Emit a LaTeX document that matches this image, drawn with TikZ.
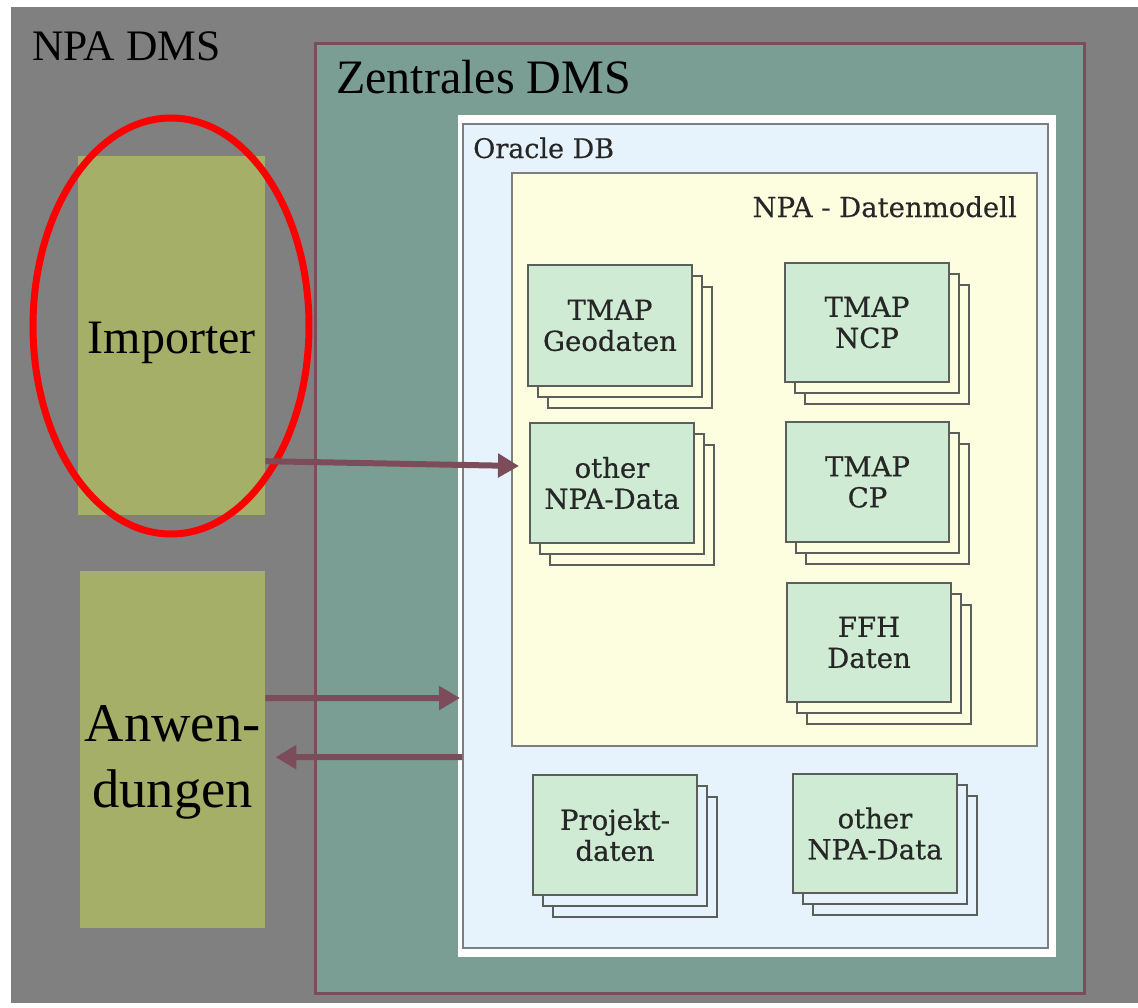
\documentclass[tikz,border=0pt]{standalone}
\usepackage{fontspec}
\setmainfont{Liberation Serif}
\newfontfamily\boxfont[FakeBold=0.6]{DejaVu Serif}
\newfontfamily\labelfont[FakeBold=0.3]{DejaVu Serif}
\usetikzlibrary{arrows.meta,calc}
\definecolor{bggray}{HTML}{808080}
\definecolor{tealbg}{HTML}{7B9E94}
\definecolor{maroon}{HTML}{7D4C5A}
\definecolor{olive}{HTML}{A6AF68}
\definecolor{oraclebg}{HTML}{E6F3FC}
\definecolor{modelbg}{HTML}{FDFDE0}
\definecolor{boxgreen}{HTML}{CFEBD4}
\definecolor{boxline}{HTML}{5A5F5C}
\definecolor{boxtext}{HTML}{262626}
\newcommand\stackbox[7]{% name, x, y, w, h, text, background
  \draw[backline, fill=#7] (#2+20,#3+22) rectangle ++(#4,#5);
  \draw[backline, fill=#7] (#2+10,#3+11) rectangle ++(#4,#5);
  \node[frontbox, minimum width=#4pt, minimum height=#5pt] (#1) at (#2+#4/2,#3+#5/2) {#6};
}
\begin{document}
\begin{tikzpicture}[x=1pt,y=-1pt,
  backline/.style={draw=boxline, line width=1.5pt},
  frontbox/.style={draw=boxline, line width=2pt, fill=boxgreen, inner sep=0pt,
    align=center, text=boxtext, font=\boxfont\fontsize{27.5}{31}\selectfont},
  olivebox/.style={fill=olive, inner sep=0pt, anchor=north west},
  flow/.style={draw=maroon, line width=6pt, -{Triangle[length=21pt,width=23pt]}},
  bigtext/.style={inner sep=0pt, text=black}
]
\useasboundingbox (0,0) rectangle (1138,1007);
\fill[white] (0,0) rectangle (1138,1007);
\fill[bggray] (11,7) rectangle (1138,1003);
\node[bigtext, anchor=base west, font=\fontsize{43.5}{48}\selectfont] (npadms) at (32,60) {NPA DMS};

% Zentrales DMS
\node[draw=maroon, line width=3pt, fill=tealbg, anchor=north west, inner sep=0pt,
  minimum width=769pt, minimum height=950pt] (zdms) at (314,42) {};
\node[bigtext, anchor=base west, font=\fontsize{48}{54}\selectfont] (zdmslabel) at (336,93) {Zentrales DMS};

% Oracle DB
\node[fill=white, anchor=north west, inner sep=0pt, minimum width=598pt, minimum height=842pt] (oracle) at (458,115) {};
\node[draw=boxline!80, line width=2pt, fill=oraclebg, anchor=north west, inner sep=0pt,
  minimum width=585pt, minimum height=824pt] (oracleinner) at (462,123) {};
\node[anchor=base west, inner sep=0pt, text=boxtext, font=\labelfont\fontsize{27}{31}\selectfont] (oraclelabel) at (473,158) {Oracle DB};

% NPA - Datenmodell
\node[draw=boxline!80, line width=2pt, fill=modelbg, anchor=north west, inner sep=0pt,
  minimum width=525pt, minimum height=573pt] (model) at (511,172) {};
\node[anchor=base east, inner sep=0pt, text=boxtext, font=\labelfont\fontsize{27.5}{31}\selectfont] (modellabel) at (1017,217) {NPA - Datenmodell};

\stackbox{geo}{528}{265}{164}{121}{TMAP\\Geodaten}{modelbg}
\stackbox{ncp}{785}{263}{164}{119}{TMAP\\NCP}{modelbg}
\stackbox{other}{530}{423}{164}{120}{other\\NPA-Data}{modelbg}
\stackbox{cp}{786}{422}{163}{120}{TMAP\\CP}{modelbg}
\stackbox{ffh}{787}{583}{164}{119}{FFH\\Daten}{modelbg}
\stackbox{proj}{533}{775}{164}{120}{Projekt-\\daten}{oraclebg}
\stackbox{otherb}{793}{774}{164}{119}{other\\NPA-Data}{oraclebg}

% Left side
\node[olivebox, minimum width=187pt, minimum height=359pt] (imp) at (78,156) {};
\node[bigtext, anchor=base, font=\fontsize{48}{54}\selectfont] (implabel) at ($(imp.center)+(0,17.5)$) {Importer};
\draw[red, line width=7pt] (171,326) ellipse [x radius=138, y radius=208];

\node[olivebox, minimum width=185pt, minimum height=357pt] (anw) at (80,571) {};
\node[bigtext, align=center, font=\fontsize{54.5}{66}\selectfont] (anwlabel) at ($(anw.center)+(0,13)$) {Anwen-\\dungen};

% Arrows
\draw[flow] ([yshift=-125.5pt]imp.east) -- ([xshift=-10pt,yshift=17pt]other.west);
\draw[flow] ([yshift=51.5pt]anw.east) -- ([xshift=2pt]oracle.west |- 0,698);
\draw[flow] ([xshift=4pt]oracle.west |- 0,757) -- ([xshift=10pt,yshift=-7.5pt]anw.east);
\end{tikzpicture}
\end{document}
